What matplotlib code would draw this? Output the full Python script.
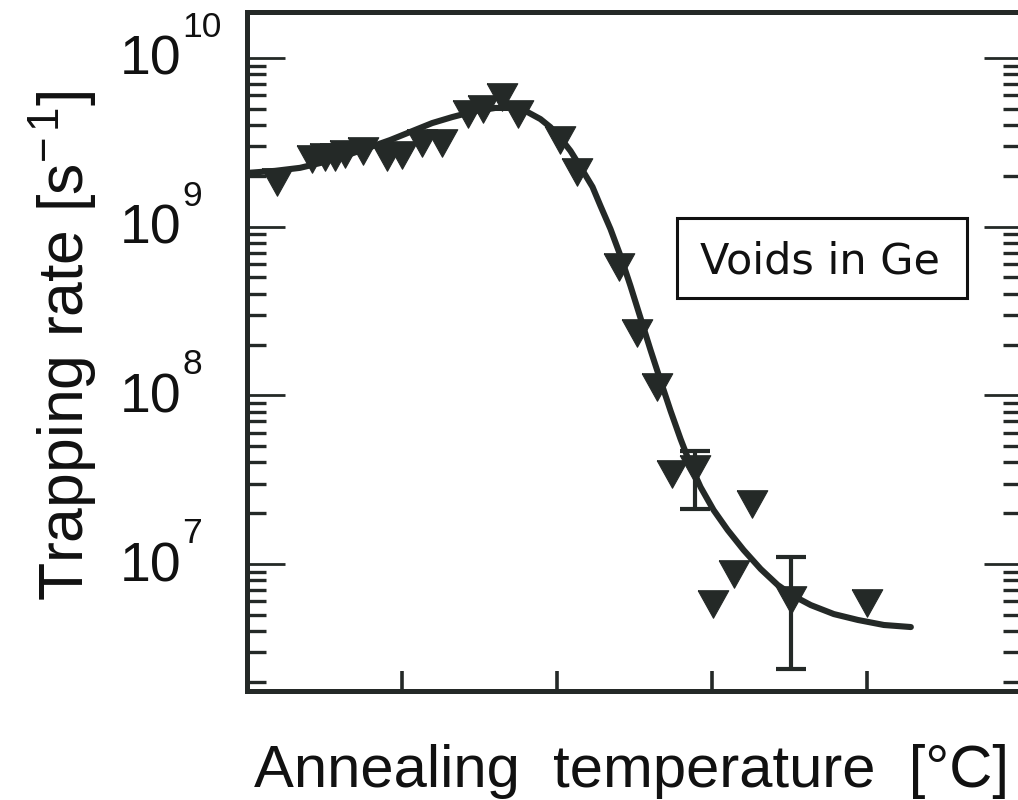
import matplotlib
matplotlib.use("Agg")
import matplotlib.pyplot as plt
from matplotlib.patches import Rectangle
from matplotlib.ticker import LogLocator, NullFormatter

plt.rcParams['font.family'] = ['Liberation Sans', 'DejaVu Sans']
plt.rcParams['mathtext.fontset'] = 'custom'
plt.rcParams['mathtext.rm'] = 'Liberation Sans'
plt.rcParams['mathtext.it'] = 'Liberation Sans:italic'
plt.rcParams['mathtext.bf'] = 'Liberation Sans:bold'

INK = '#242927'

# measured trapping rates vs annealing temperature
temp = [19.4, 42.0, 50.4, 56.8, 63.3, 74.9, 90.4, 100.1, 113.0, 126.0,
        142.8, 152.5, 164.7, 175.1, 202.2, 213.2, 239.7, 251.3, 264.2,
        273.9, 288.8, 300.4, 314.0, 325.6, 350.8, 399.9]
rate = [1.85e9, 2.50e9, 2.60e9, 2.60e9, 2.68e9, 2.79e9, 2.60e9, 2.64e9, 3.11e9, 3.11e9,
        4.68e9, 5.01e9, 5.90e9, 4.68e9, 3.26e9, 2.12e9, 5.80e8, 2.33e8, 1.12e8,
        3.42e7, 3.66e7, 5.83e6, 8.78e6, 2.28e7, 6.12e6, 5.87e6]

# points carrying error bars
err_temp = [288.8, 350.8]
err_rate = [3.66e7, 6.12e6]
err_low = [2.12e7, 2.39e6]
err_high = [4.68e7, 1.10e7]

# model curve
fit_temp = [0.0, 18.1, 34.2, 50.4, 66.5, 79.5, 92.4, 105.3, 119.5, 132.4,
            147.3, 160.2, 171.2, 180.9, 189.3, 195.7, 202.2, 208.7, 215.1, 222.9,
            228.0, 234.5, 241.0, 247.4, 253.9, 260.3, 266.8, 273.3, 279.7, 286.2,
            292.6, 301.0, 310.1, 320.4, 331.4, 342.4, 352.7, 363.7, 378.6, 394.1,
            410.9, 428.3]
fit_rate = [2.08e9, 2.14e9, 2.23e9, 2.42e9, 2.69e9, 2.96e9, 3.26e9, 3.64e9, 4.11e9, 4.46e9,
            4.84e9, 5.05e9, 5.05e9, 4.78e9, 4.34e9, 3.89e9, 3.35e9, 2.81e9, 2.26e9, 1.72e9,
            1.33e9, 9.68e8, 6.69e8, 4.45e8, 2.87e8, 1.86e8, 1.22e8, 8.07e7, 5.51e7, 3.86e7,
            2.86e7, 2.09e7, 1.59e7, 1.21e7, 9.34e6, 7.51e6, 6.46e6, 5.71e6, 5.05e6, 4.66e6,
            4.35e6, 4.23e6]

y_ticks = [1e7, 1e8, 1e9, 1e10]
y_tick_exponents = ['7', '8', '9', '10']
x_ticks = [100, 200, 300, 400]

fig = plt.figure(figsize=(10.18, 8.0), dpi=100)
ax = fig.add_axes([247 / 1018, 109 / 800, 775 / 1018, 679 / 800])

ax.plot(fit_temp, fit_rate, color=INK, lw=4.4, solid_capstyle='round', zorder=2)

tri_down = [(-1.0, 0.9), (1.0, 0.9), (0.0, -0.9), (-1.0, 0.9)]
ax.plot(temp, rate, linestyle='none', marker=tri_down, markersize=22,
        color=INK, markeredgecolor=INK, markeredgewidth=0.8, zorder=3)

yerr = [[v - lo for v, lo in zip(err_rate, err_low)],
        [hi - v for v, hi in zip(err_rate, err_high)]]
ax.errorbar(err_temp, err_rate, yerr=yerr, fmt='none', ecolor=INK,
            elinewidth=3.0, capsize=10.8, capthick=3.0, zorder=3)

ax.set_yscale('log')
ax.set_xlim(0, 500)
ax.set_ylim(1.767e6, 1.871e10)

ax.set_xticks(x_ticks)
ax.set_xticklabels([])
ax.set_yticks(y_ticks)
ax.set_yticklabels([])
ax.yaxis.set_minor_locator(LogLocator(base=10, subs=range(2, 10), numticks=20))
ax.yaxis.set_minor_formatter(NullFormatter())
ax.xaxis.set_minor_locator(plt.NullLocator())

ax.tick_params(axis='y', which='major', direction='in', left=True, right=True,
               length=27.4, width=2.0, color=INK)
ax.tick_params(axis='y', which='minor', direction='in', left=True, right=True,
               length=13.7, width=2.4, color=INK)
ax.tick_params(axis='x', which='major', direction='in', bottom=True, top=False,
               length=14.4, width=2.6, color=INK)

for sp in ax.spines.values():
    sp.set_linewidth(3.6)
    sp.set_color(INK)

# decade labels: base and raised exponent
for v, e in zip(y_ticks, y_tick_exponents):
    ax.annotate('10', xy=(0, v), xycoords=('axes fraction', 'data'),
                xytext=(-127, -17), textcoords='offset pixels',
                ha='left', va='baseline', fontsize=40, color='#111111',
                annotation_clip=False)
    ax.annotate(e, xy=(0, v), xycoords=('axes fraction', 'data'),
                xytext=(-65, 21), textcoords='offset pixels',
                ha='left', va='baseline', fontsize=25.5, color='#111111',
                annotation_clip=False)

fig.text(83 / 1018, 1 - 346 / 800, r'Trapping rate [s$^{-\,1}$]', rotation=90,
         rotation_mode='anchor', ha='center', va='baseline', fontsize=45,
         color='#111111')
fig.text(631 / 1018, 1 - 787 / 800, 'Annealing  temperature  [°C]',
         ha='center', va='baseline', fontsize=43, color='#111111')

ax.add_patch(Rectangle((0.5542, 0.5781), 0.3742, 0.1178, transform=ax.transAxes,
                       fill=False, edgecolor='#111111', linewidth=2.2, zorder=4))
ax.text(0.7394, 0.6156, 'Voids in Ge', transform=ax.transAxes, ha='center',
        va='baseline', fontsize=31, family='DejaVu Sans', color='#111111', zorder=5)

fig.savefig('out.png', dpi=100)
